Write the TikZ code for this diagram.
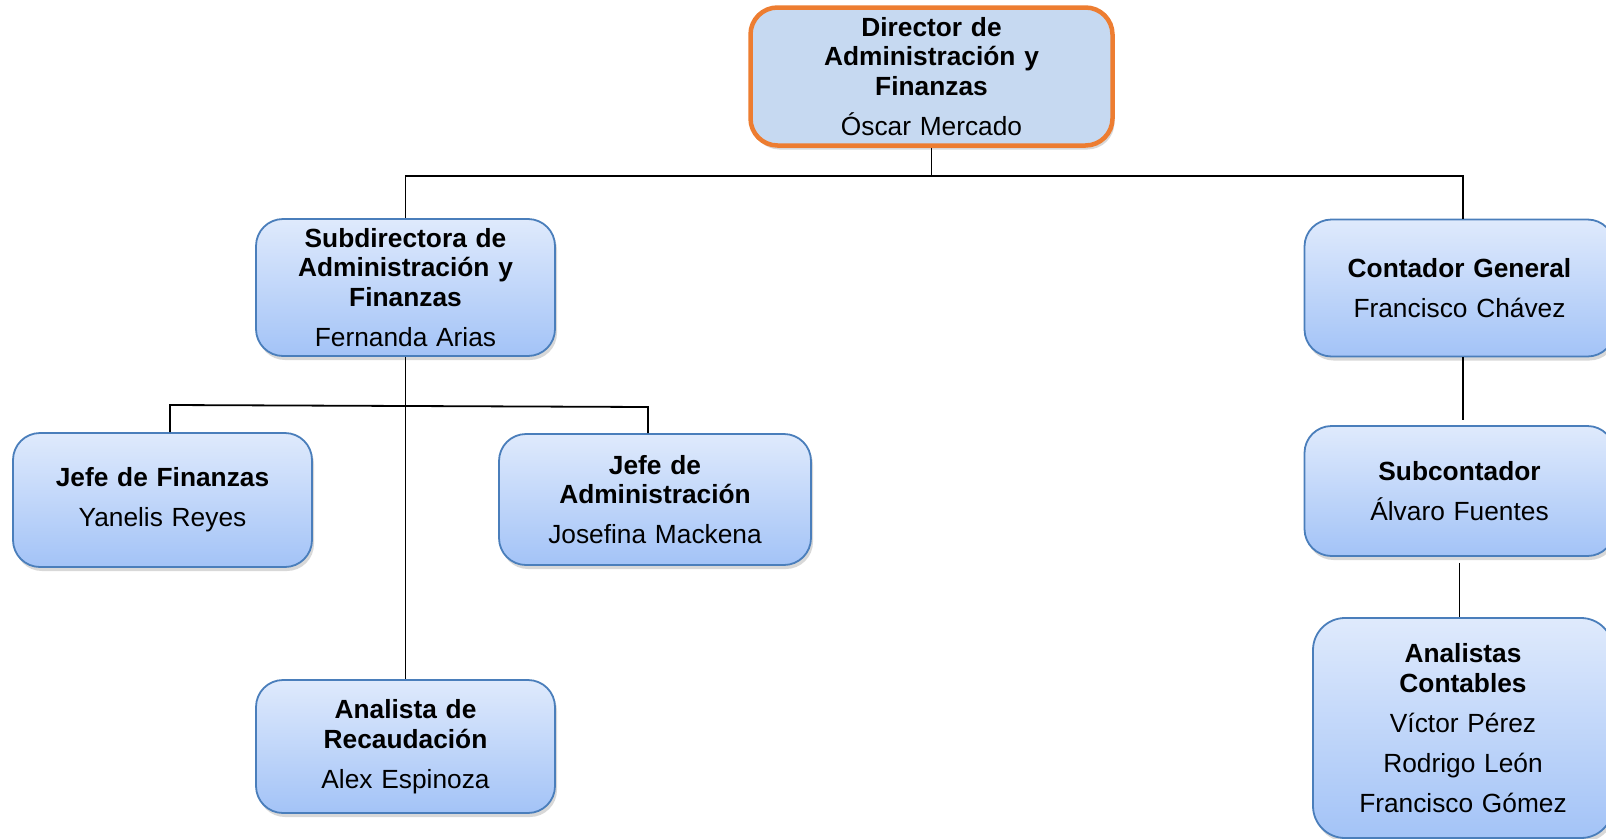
\documentclass[tikz,border=0pt]{standalone}
\usepackage{fontspec}
\setmainfont{Liberation Sans}
\usetikzlibrary{shadows}
\definecolor{cajaborde}{RGB}{74,126,187}
\definecolor{cajaarriba}{RGB}{223,234,252}
\definecolor{cajaabajo}{RGB}{163,195,247}
\definecolor{dirrelleno}{RGB}{198,217,241}
\definecolor{dirborde}{RGB}{237,125,49}
\newcommand{\cargo}[2]{{\bfseries #1}\\[10.6pt]#2}

\begin{document}
\begin{tikzpicture}[x=1pt,y=-1pt,
    sombra/.style={drop shadow={shadow xshift=2pt,shadow yshift=-4pt,opacity=.3}},
    caja/.style={draw=cajaborde,line width=1.8pt,rounded corners=27pt,
      top color=cajaarriba,bottom color=cajaabajo,sombra,
      align=center,inner sep=0pt,minimum width=299pt,text width=290pt,
      font=\fontsize{26.3}{29.4}\selectfont},
    dirbox/.style={caja,draw=dirborde,line width=4.5pt,fill=dirrelleno,
      top color=dirrelleno,bottom color=dirrelleno},
    linea/.style={line width=1.8pt}]
      \fill[white] (0,0) rectangle (1606,838);
      \useasboundingbox (0,0) rectangle (1606,838);

      % cajas
      \node[dirbox,minimum width=362pt,minimum height=138pt] (dir) at (931.5,76.5)
        {\cargo{Director de\\Administración y\\Finanzas}{Óscar Mercado}};
      \node[caja,minimum height=137pt] (sub) at (405.5,287.5)
        {\cargo{Subdirectora de\\Administración y\\Finanzas}{Fernanda Arias}};
      \node[caja,minimum width=310pt,minimum height=137pt] (cont) at (1459.5,288)
        {\cargo{Contador General}{Francisco Chávez}};
      \node[caja,minimum width=310pt,minimum height=130pt] (subc) at (1459.5,491)
        {\cargo{Subcontador}{Álvaro Fuentes}};
      \node[caja,minimum width=300pt,minimum height=220pt,rounded corners=32pt] (anal) at (1463,728)
        {\cargo{Analistas\\Contables}{Víctor Pérez\\[10.6pt]Rodrigo León\\[10.6pt]Francisco Gómez}};
      \node[caja,minimum height=134pt] (jf) at (162.5,500)
        {\cargo{Jefe de Finanzas}{Yanelis Reyes}};
      \node[caja,minimum width=312pt,minimum height=131pt] (ja) at (655,499.5)
        {\cargo{Jefe de\\Administración}{Josefina Mackena}};
      \node[caja,minimum height=133pt] (ar) at (405.5,746.5)
        {\cargo{Analista de\\Recaudación}{Alex Espinoza}};

      % lineas
      \coordinate (troncoI) at (406,176);
      \coordinate (troncoD) at (1463,176);
      \coordinate (barraI) at (170,405);
      \coordinate (barraD) at (648,407);
      \draw[linea] (dir.south) -- (dir.south |- troncoI);
      \draw[linea] (sub.north) -- (sub.north |- troncoI) -- (troncoD) -- (troncoD |- cont.north);
      \draw[linea] (sub.south) -- (ar.north);
      \draw[linea] (barraI |- jf.north) -- (barraI) -- (barraD) -- (barraD |- ja.north);
      \draw[linea,shorten >=5pt] (troncoD |- cont.south) -- (troncoD |- subc.north);
      \draw[linea,shorten <=6pt] (subc.south) -- (subc.south |- anal.north);
\end{tikzpicture}
\end{document}
